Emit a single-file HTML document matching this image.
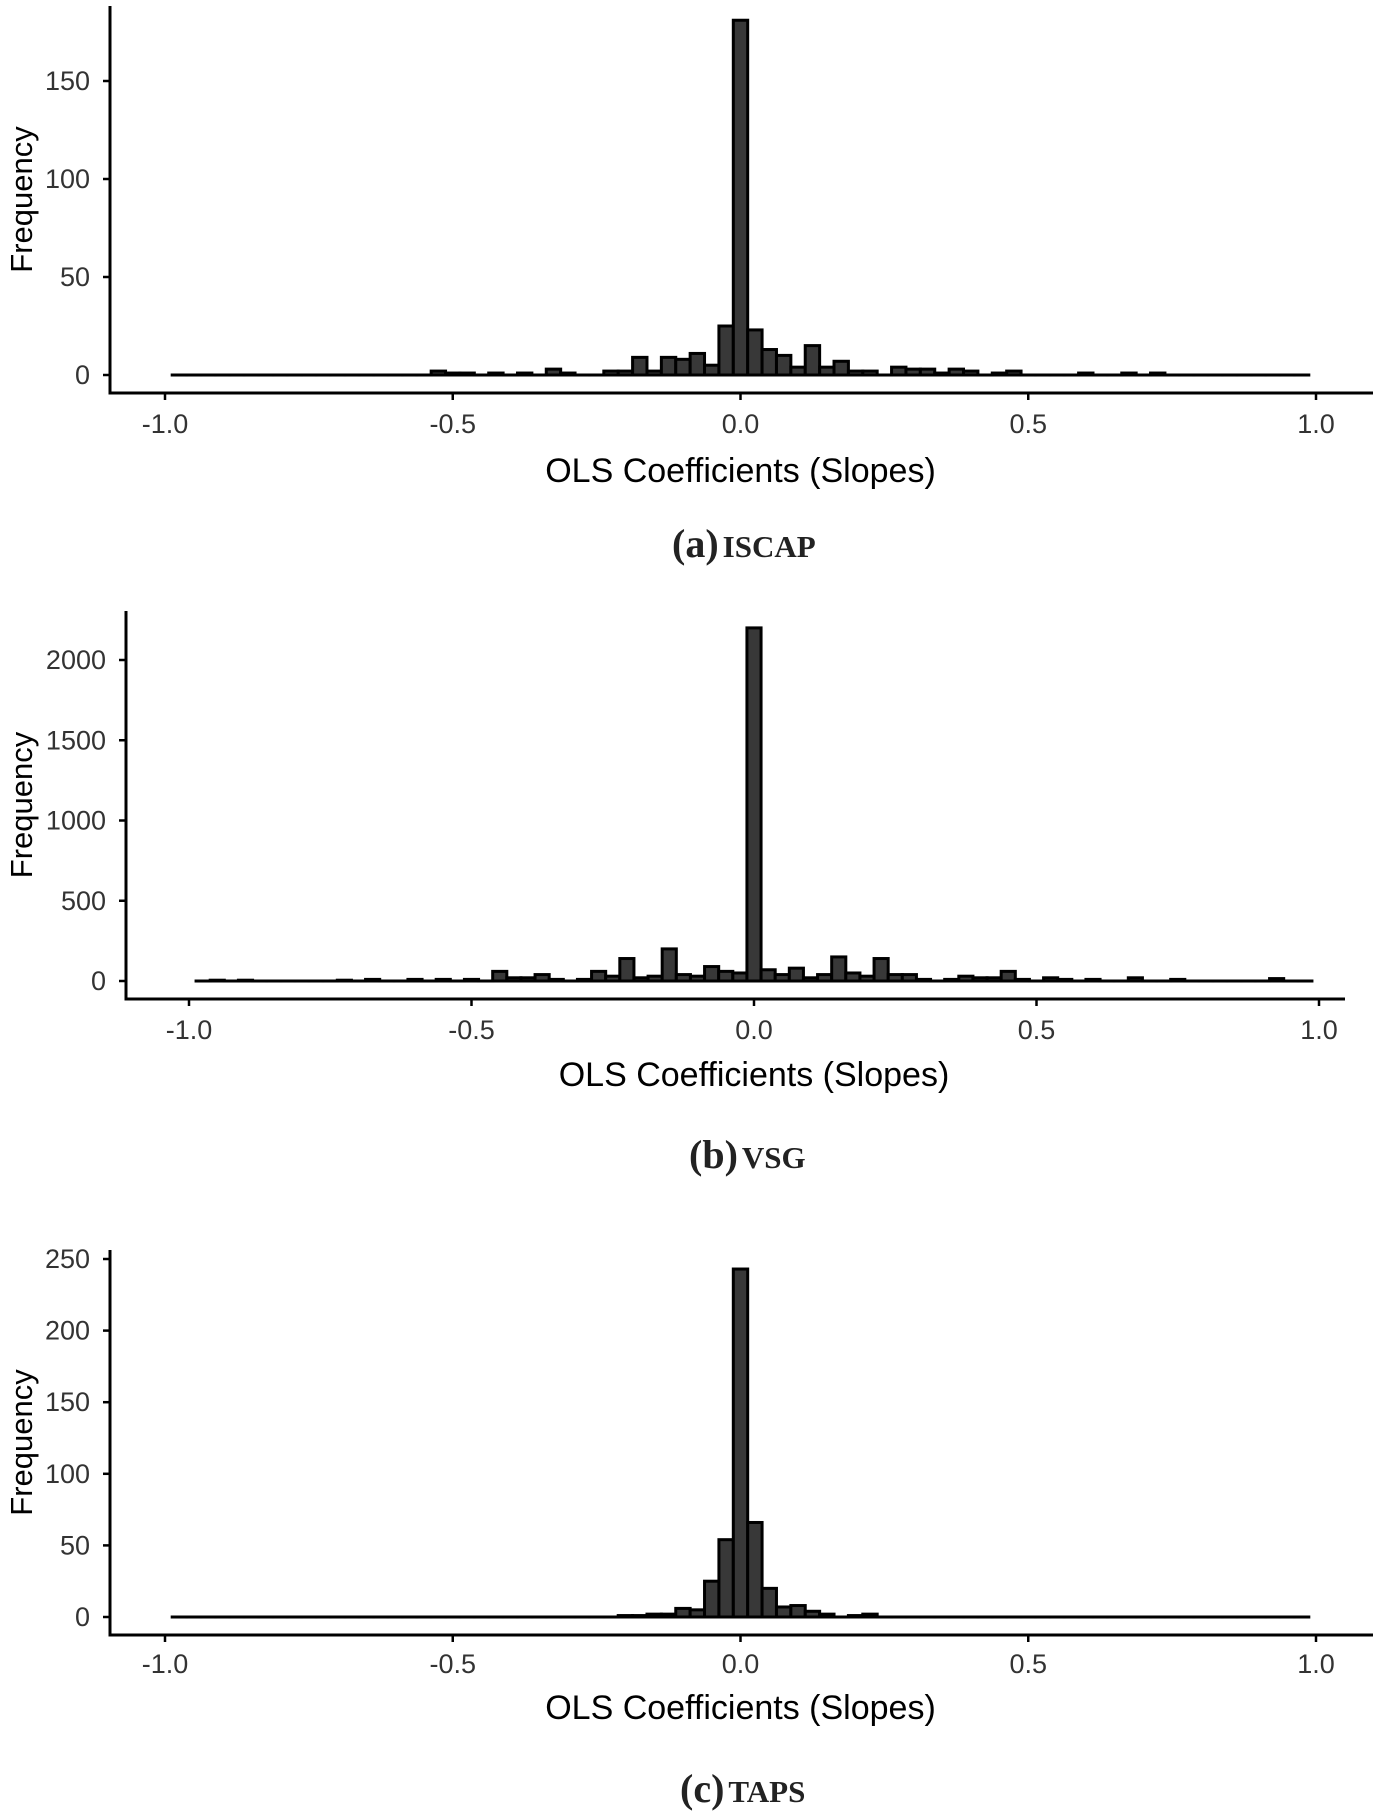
<!DOCTYPE html>
<html><head><meta charset="utf-8">
<style>
html,body{margin:0;padding:0;background:#fff;}
svg{display:block;}
.tick{font-family:"Liberation Sans Narrow","Liberation Sans",sans-serif;font-size:27px;fill:#333;}
.ytitle{font-family:"Liberation Sans",sans-serif;font-size:31px;fill:#000;}
.xtitle{font-family:"Liberation Sans Narrow","Liberation Sans",sans-serif;font-size:34px;fill:#000;}
.cap{font-family:"Liberation Serif",serif;font-weight:bold;font-size:40px;fill:#222;}
</style></head>
<body>
<svg id="fig" width="1381" height="1816" viewBox="0 0 1381 1816" xmlns="http://www.w3.org/2000/svg"></svg>
<script>
// Chart (a) ISCAP
const aCenters = [-0.525,-0.5,-0.475,-0.425,-0.375,-0.325,-0.3,-0.225,-0.2,-0.175,-0.15,-0.125,-0.1,-0.075,-0.05,-0.025,0,0.025,0.05,0.075,0.1,0.125,0.15,0.175,0.2,0.225,0.275,0.3,0.325,0.35,0.375,0.4,0.45,0.475,0.6,0.675,0.725];
const aCounts  = [2,1,1,1,1,3,1,2,2,9,2,9,8,11,5,25,181,23,13,10,4,15,4,7,2,2,4,3,3,1,3,2,1,2,1,1,1];
const aYTicks = [0,50,100,150];
// Chart (b) VSG
const bCenters = [-0.95,-0.9,-0.725,-0.675,-0.6,-0.55,-0.5,-0.45,-0.425,-0.4,-0.375,-0.35,-0.3,-0.275,-0.25,-0.225,-0.2,-0.175,-0.15,-0.125,-0.1,-0.075,-0.05,-0.025,0,0.025,0.05,0.075,0.1,0.125,0.15,0.175,0.2,0.225,0.25,0.275,0.3,0.35,0.375,0.4,0.425,0.45,0.475,0.525,0.55,0.6,0.675,0.75,0.925];
const bCounts  = [5,5,5,10,10,10,10,60,20,20,40,10,10,60,30,140,20,30,200,40,30,90,60,50,2200,70,40,80,20,40,150,50,30,140,40,40,10,10,30,20,20,60,10,20,10,10,20,10,15];
const bYTicks = [0,500,1000,1500,2000];
// Chart (c) TAPS
const cCenters = [-0.2,-0.175,-0.15,-0.125,-0.1,-0.075,-0.05,-0.025,0,0.025,0.05,0.075,0.1,0.125,0.15,0.2,0.225];
const cCounts  = [1,1,2,2,6,5,25,54,243,66,20,7,8,4,2,1,2];
const cYTicks = [0,50,100,150,200,250];
const xTicks = [-1.0,-0.5,0.0,0.5,1.0];
const binWidth = 0.025;

const NS = "http://www.w3.org/2000/svg";
const svg = document.getElementById('fig');
function mk(tag, attrs, parent){
  const e = document.createElementNS(NS, tag);
  for (const k in attrs) e.setAttribute(k, attrs[k]);
  (parent||svg).appendChild(e);
  return e;
}
function drawChart(id, centers, counts, yTicks, L, cfg, caption, capSmall){
  const g = mk('g', {});
  
  
  const xs = v => cfg.x0 + (v + 1) / 2 * (cfg.x1 - cfg.x0);
  const ys = v => cfg.y0 - v / yTicks[yTicks.length-1] * (cfg.y0 - cfg.yTop);
  const map = {};
  centers.forEach((c,i)=>{ map[Math.round(c/binWidth)] = counts[i]; });
  for (let k = -39; k <= 39; k++){
    const v = map[k] || 0;
    const c = k * binWidth;
    const xa = xs(c - binWidth/2), xb = xs(c + binWidth/2);
    const r = mk('rect', {x:xa, y:ys(v), width:xb-xa, height:Math.max(ys(0)-ys(v),0.01), fill:'#383838', stroke:'#000', 'stroke-width':3}, g);
    
    
  }
  const ax = mk('path', {d:`M${cfg.axL},${cfg.axTop} V${cfg.axB} H${cfg.axR}`, fill:'none', stroke:'#000', 'stroke-width':3}, g);
  
  
  yTicks.forEach(t=>{
    mk('line', {x1:cfg.axL-7, x2:cfg.axL, y1:ys(t), y2:ys(t), stroke:'#000', 'stroke-width':2.5}, g);
    const tx = mk('text', {x:cfg.axL-20, y:ys(t)+9, 'text-anchor':'end', class:'tick'}, g);
    tx.textContent = t;
    
    
  });
  xTicks.forEach(t=>{
    mk('line', {x1:xs(t), x2:xs(t), y1:cfg.axB, y2:cfg.axB+7, stroke:'#000', 'stroke-width':2.5}, g);
    const tx = mk('text', {x:xs(t), y:cfg.xlabY, 'text-anchor':'middle', class:'tick'}, g);
    tx.textContent = t.toFixed(1);
    
    
  });
  const yt = mk('text', {x:0, y:0, transform:`translate(${cfg.ytX},${(cfg.axTop+cfg.axB)/2}) rotate(-90)`, 'text-anchor':'middle', class:'ytitle'}, g);
  yt.textContent = 'Frequency';
  
  
  const xt = mk('text', {x:(cfg.x0+cfg.x1)/2, y:cfg.xtY, 'text-anchor':'middle', class:'xtitle'}, g);
  xt.textContent = 'OLS Coefficients (Slopes)';
  
  
  const cp = mk('text', {x:cfg.capX, y:cfg.capY, class:'cap'}, g);
  cp.textContent = L;
  const sm = mk('tspan', {'font-size':'31px', dx:'4'}, cp);
  sm.textContent = capSmall;
  
  
}
drawChart('a', aCenters, aCounts, aYTicks, '(a)',
  {x0:165, x1:1316, y0:375, yTop:81, axL:110, axTop:6, axB:393, axR:1373, xlabY:433, xtY:482, ytX:32, capX:672, capY:557}, '', 'ISCAP');
drawChart('b', bCenters, bCounts, bYTicks, '(b)',
  {x0:189, x1:1319, y0:981, yTop:660, axL:126, axTop:611, axB:999, axR:1345, xlabY:1039, xtY:1086, ytX:32, capX:689, capY:1168}, '', 'VSG');
drawChart('c', cCenters, cCounts, cYTicks, '(c)',
  {x0:165, x1:1316, y0:1617, yTop:1259, axL:110, axTop:1250, axB:1635, axR:1373, xlabY:1673, xtY:1719, ytX:32, capX:680, capY:1802}, '', 'TAPS');
</script>
</body></html>
